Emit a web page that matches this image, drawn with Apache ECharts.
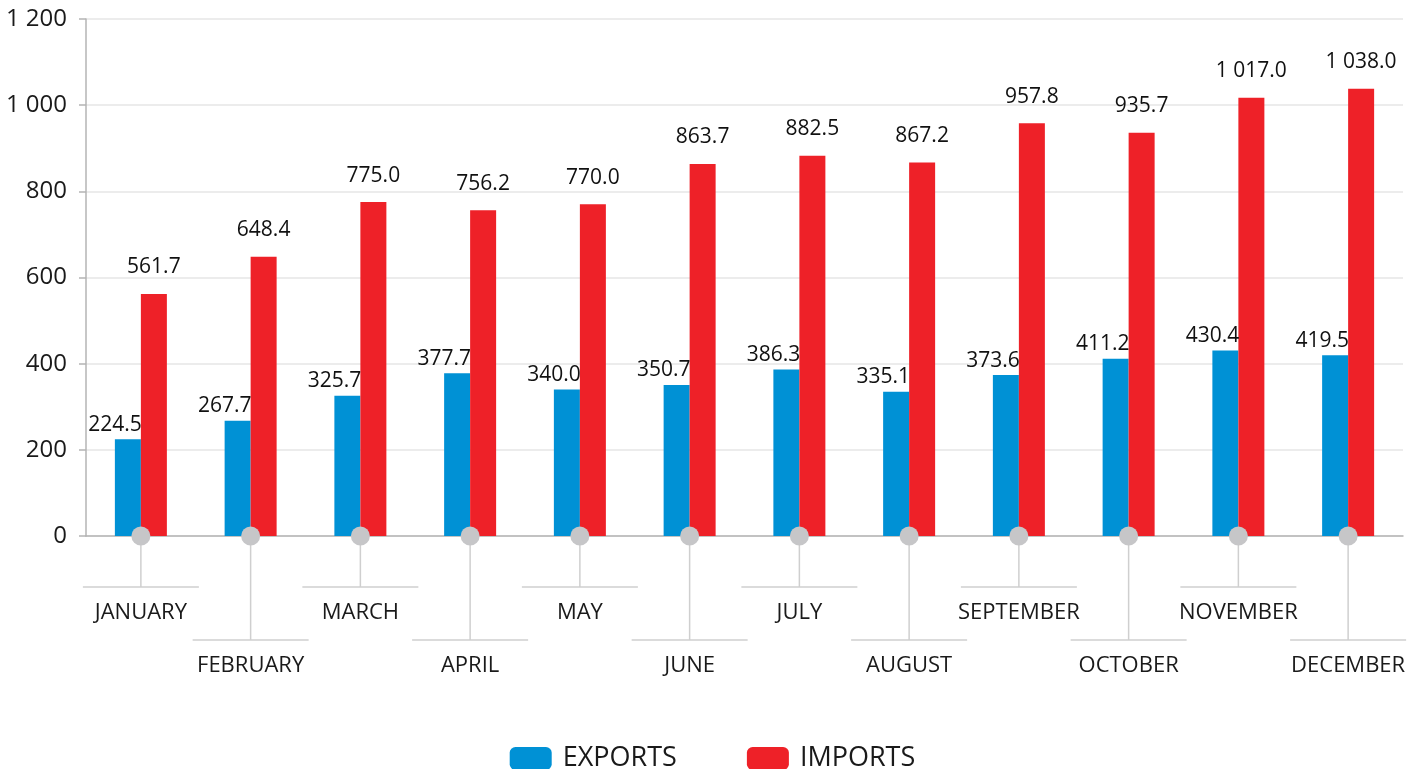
<!DOCTYPE html>
<html>
<head>
<meta charset="utf-8">
<script src="https://cdn.jsdelivr.net/npm/echarts@6/dist/echarts.min.js"></script>
<style>
  html, body { margin: 0; padding: 0; background: #fff; }
  #chart { width: 1425px; height: 769px; }
</style>
</head>
<body>
<div id="chart"></div>
<script>
const months = ['JANUARY', 'FEBRUARY', 'MARCH', 'APRIL', 'MAY', 'JUNE', 'JULY', 'AUGUST', 'SEPTEMBER', 'OCTOBER', 'NOVEMBER', 'DECEMBER']
const exportsData = [224.5, 267.7, 325.7, 377.7, 340.0, 350.7, 386.3, 335.1, 373.6, 411.2, 430.4, 419.5]
const importsData = [561.7, 648.4, 775.0, 756.2, 770.0, 863.7, 882.5, 867.2, 957.8, 935.7, 1017.0, 1038.0]
const yTicks = [0, 200, 400, 600, 800, 1000, 1200]

const font = '"Open Sans", "Noto Sans", sans-serif'
const blue = '#0091d5'
const red = '#ee2128'

// "1 200" style formatting
const fmt = (v, digits) => {
  let s = Number(v).toFixed(digits)
  let parts = s.split('.')
  parts[0] = parts[0].replace(/\B(?=(\d{3})+(?!\d))/g, ' ')
  return parts.join('.')
}

const chart = echarts.init(document.getElementById('chart'))

const option = {
  animation: false,
  textStyle: { fontFamily: font },
  grid: { left: 86, right: 22, top: 19, bottom: 233, containLabel: false },
  legend: {
    top: 740,
    left: 'center',
    itemWidth: 42,
    itemHeight: 23,
    itemGap: 70,
    icon: 'roundRect',
    textStyle: { fontSize: 27, color: '#1a1a1a', fontFamily: font, padding: [0, 0, 0, 6] },
    data: ['EXPORTS', 'IMPORTS']
  },
  xAxis: [
    {
      type: 'category',
      data: months,
      position: 'bottom',
      axisLine: { show: true, lineStyle: { color: '#b4b4b4', width: 1.5 } },
      axisTick: { show: false },
      axisLabel: {
        interval: (i) => i % 2 === 0,
        margin: 66,
        fontSize: 22,
        color: '#1a1a1a',
        fontFamily: font
      }
    },
    {
      type: 'category',
      data: months,
      position: 'bottom',
      axisLine: { show: false },
      axisTick: { show: false },
      axisLabel: {
        interval: (i) => i % 2 === 1,
        margin: 119,
        fontSize: 22,
        color: '#1a1a1a',
        fontFamily: font
      }
    }
  ],
  yAxis: {
    type: 'value',
    min: 0,
    max: 1200,
    interval: 200,
    axisLine: { show: true, lineStyle: { color: '#b4b4b4', width: 1.5 } },
    axisTick: { show: true, length: 7, lineStyle: { color: '#b4b4b4', width: 1.5 } },
    splitLine: { lineStyle: { color: '#e6e6e6', width: 1.5 } },
    axisLabel: {
      margin: 19,
      fontSize: 24,
      color: '#1a1a1a',
      fontFamily: font,
      formatter: (v) => yTicks.includes(v) ? fmt(v, 0) : ''
    }
  },
  series: [
    {
      name: 'EXPORTS',
      type: 'bar',
      barWidth: 26,
      barGap: '0%',
      itemStyle: { color: blue },
      data: exportsData,
      label: {
        show: true,
        position: 'top',
        distance: 4,
        align: 'right',
        offset: [14, 0],
        fontSize: 21,
        color: '#111',
        fontFamily: font,
        formatter: (p) => fmt(p.value, 1)
      },
      z: 2
    },
    {
      name: 'IMPORTS',
      type: 'bar',
      barWidth: 26,
      itemStyle: { color: red },
      data: importsData,
      label: {
        show: true,
        position: 'top',
        distance: 16,
        fontSize: 21,
        color: '#111',
        fontFamily: font,
        formatter: (p) => fmt(p.value, 1)
      },
      z: 2
    },
    {
      // connector lines from the axis down to each month label
      type: 'custom',
      clip: false,
      silent: true,
      z: 3,
      data: months.map((m, i) => [i, 0]),
      renderItem: (params, api) => {
        const p = api.coord([api.value(0), 0])
        const len = api.value(0) % 2 === 0 ? 51 : 104
        const style = { stroke: '#cfcfcf', lineWidth: 1.5 }
        return {
          type: 'group',
          children: [
            { type: 'line', shape: { x1: p[0], y1: p[1], x2: p[0], y2: p[1] + len }, style },
            { type: 'line', shape: { x1: p[0] - 58, y1: p[1] + len, x2: p[0] + 58, y2: p[1] + len }, style }
          ]
        }
      }
    },
    {
      type: 'scatter',
      symbol: 'circle',
      symbolSize: 19,
      silent: true,
      itemStyle: { color: '#c6c6c8', opacity: 1 },
      data: months.map(() => 0),
      z: 5
    }
  ]
}

chart.setOption(option)
</script>
</body>
</html>
